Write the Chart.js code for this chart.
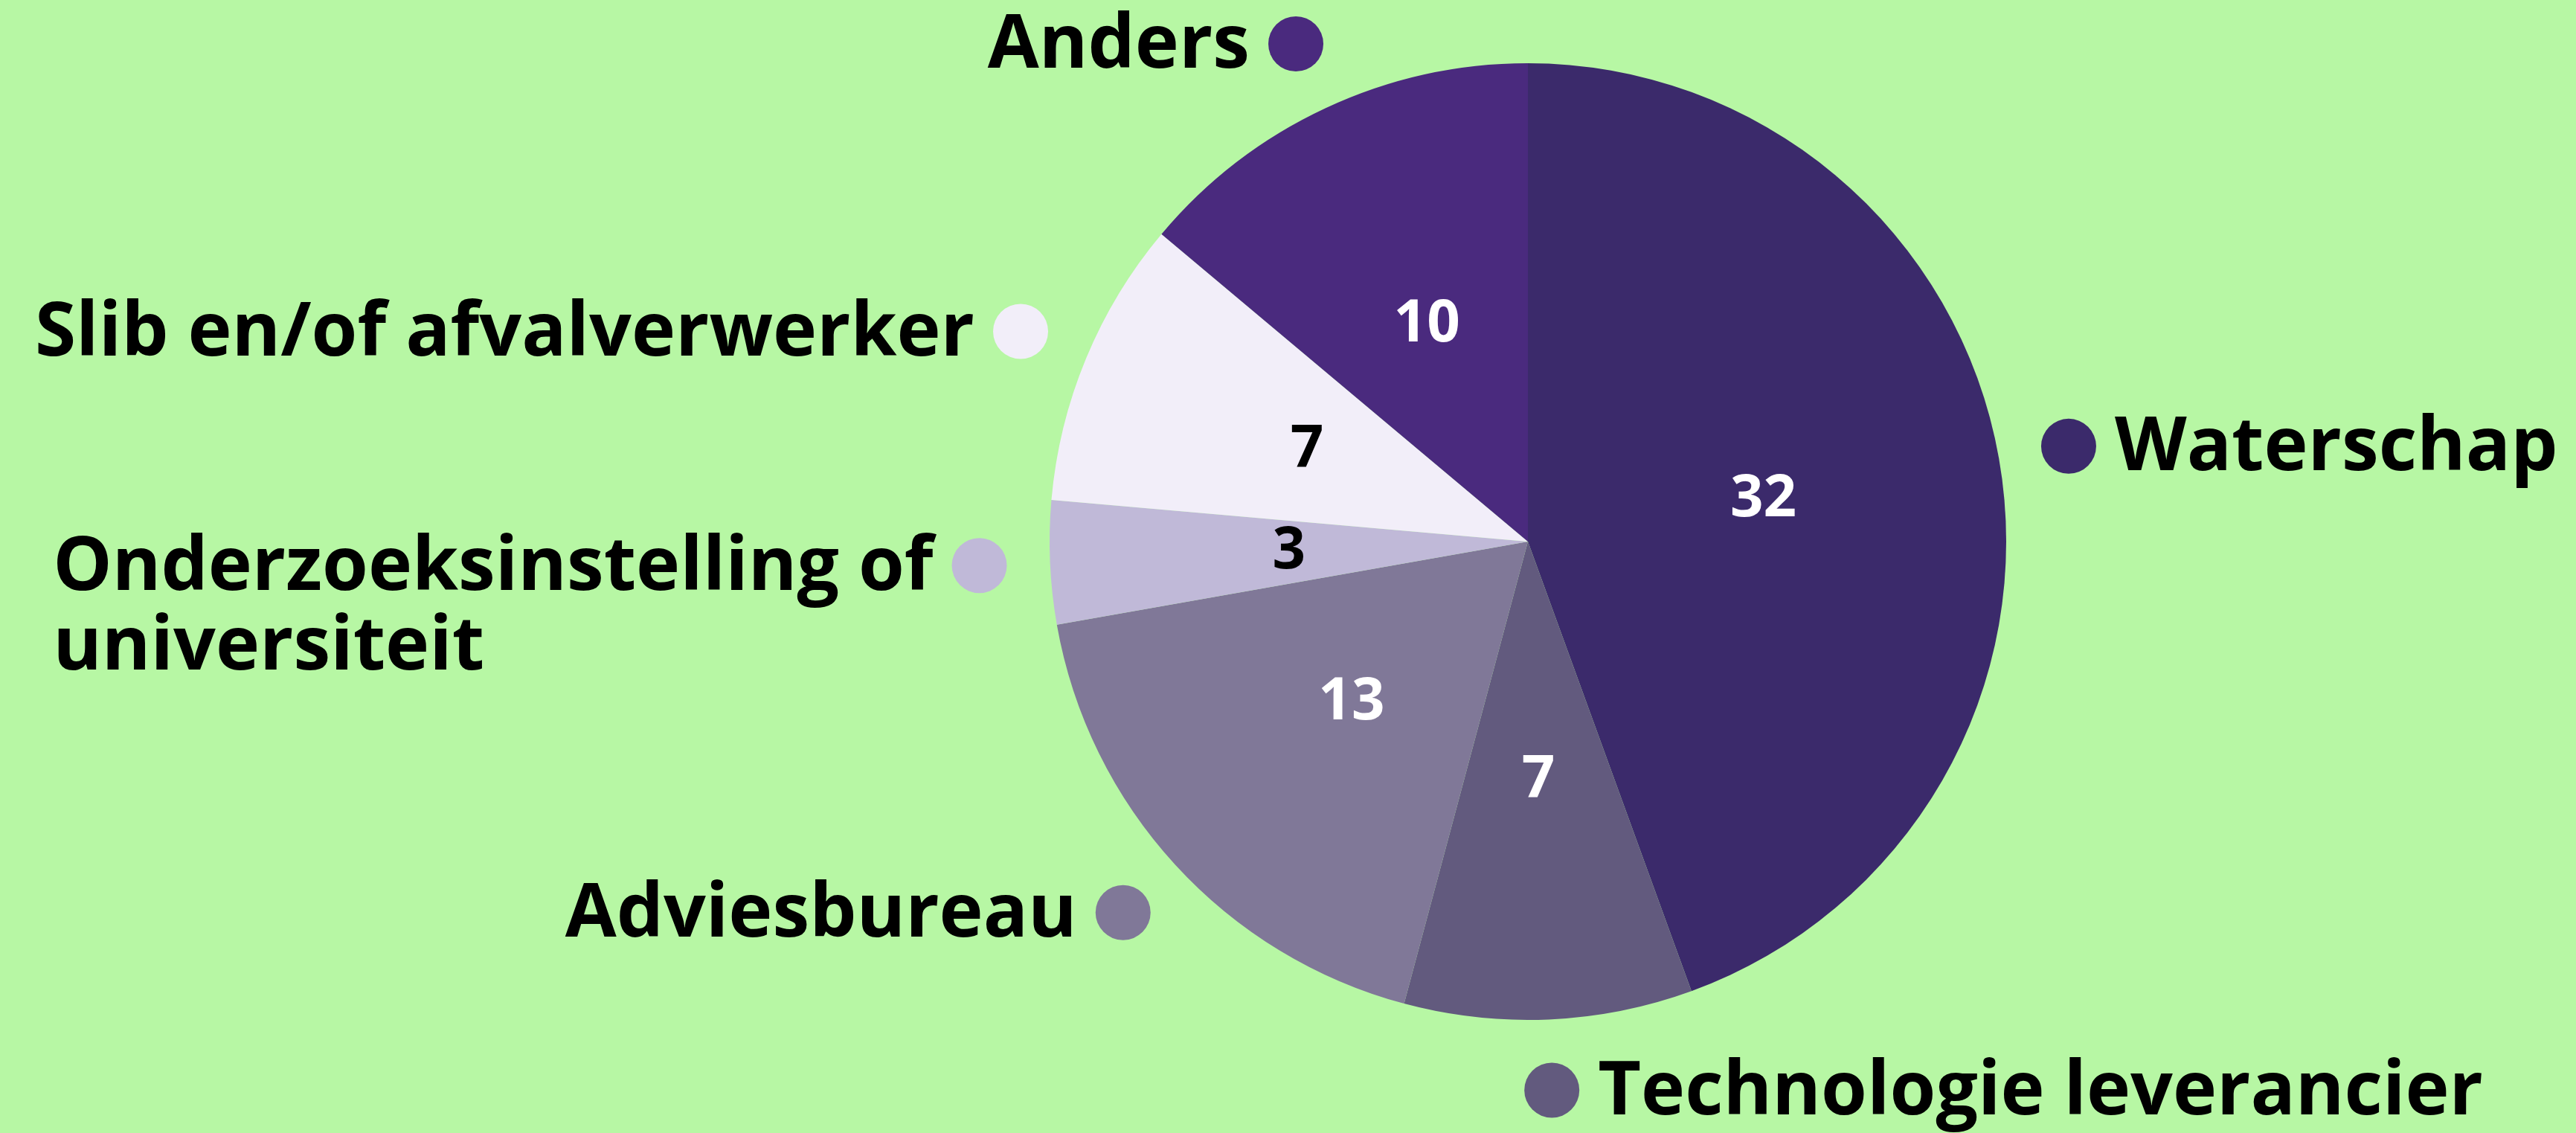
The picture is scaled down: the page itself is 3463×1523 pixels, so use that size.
<!DOCTYPE html>
<html>
<head>
  <title>Sector verdeling</title>
  <script src="https://cdn.jsdelivr.net/npm/chart.js"></script>
  <style>
    html, body { margin: 0; padding: 0; background: #b7f7a4; }
    canvas { display: block; }
  </style>
</head>
<body>
  <canvas id="pieChart" width="3463" height="1523"></canvas>

  <script>
    // Data
    const categories = [
      'Waterschap',
      'Technologie leverancier',
      'Adviesbureau',
      ['Onderzoeksinstelling of', 'universiteit'],
      'Slib en/of afvalverwerker',
      'Anders'
    ];
    const counts = [32, 7, 13, 3, 7, 10];
    const sliceColors = ['#3b2a6b', '#625a7e', '#807898', '#c0b9d8', '#f2eef9', '#4a2a7e'];
    const valueColors = ['#ffffff', '#ffffff', '#ffffff', '#000000', '#000000', '#ffffff'];

    const fontFamily = '"Open Sans", sans-serif';

    // value inside slice + dot and name outside
    const sliceLabels = {
      id: 'sliceLabels',
      afterDatasetsDraw(chart) {
        const ctx = chart.ctx;
        const meta = chart.getDatasetMeta(0);
        ctx.save();
        meta.data.forEach((arc, i) => {
          const p = arc.getProps(['x', 'y', 'startAngle', 'endAngle', 'outerRadius'], true);
          const mid = (p.startAngle + p.endAngle) / 2;

          // number in the slice
          const c = arc.tooltipPosition(true);
          ctx.font = '700 78px ' + fontFamily;
          ctx.fillStyle = valueColors[i];
          ctx.textAlign = 'center';
          ctx.textBaseline = 'middle';
          ctx.fillText(String(counts[i]), c.x, c.y);

          // dot
          const r = p.outerRadius * 1.148;
          const dx = p.x + Math.cos(mid) * r;
          const dy = p.y + Math.sin(mid) * r;
          ctx.beginPath();
          ctx.arc(dx, dy, 37, 0, Math.PI * 2);
          ctx.fillStyle = sliceColors[i];
          ctx.fill();

          // category name
          const lines = Array.isArray(categories[i]) ? categories[i] : [categories[i]];
          ctx.font = '700 100px ' + fontFamily;
          ctx.fillStyle = '#000000';
          ctx.textBaseline = 'middle';
          const right = Math.cos(mid) > 0;
          const maxW = Math.max(...lines.map(l => ctx.measureText(l).width));
          const x0 = right ? dx + 62 : dx - 62 - maxW;
          ctx.textAlign = 'left';
          lines.forEach((l, k) => ctx.fillText(l, x0, dy + 4 + k * 107));
        });
        ctx.restore();
      }
    };

    new Chart(document.getElementById('pieChart'), {
      type: 'pie',
      data: {
        labels: categories,
        datasets: [{
          data: counts,
          backgroundColor: sliceColors,
          borderWidth: 0
        }]
      },
      options: {
        responsive: false,
        animation: false,
        layout: { padding: { left: 1411, right: 766, top: 85, bottom: 152 } },
        plugins: {
          legend: { display: false },
          tooltip: { enabled: false }
        }
      },
      plugins: [sliceLabels]
    });
  </script>
</body>
</html>
